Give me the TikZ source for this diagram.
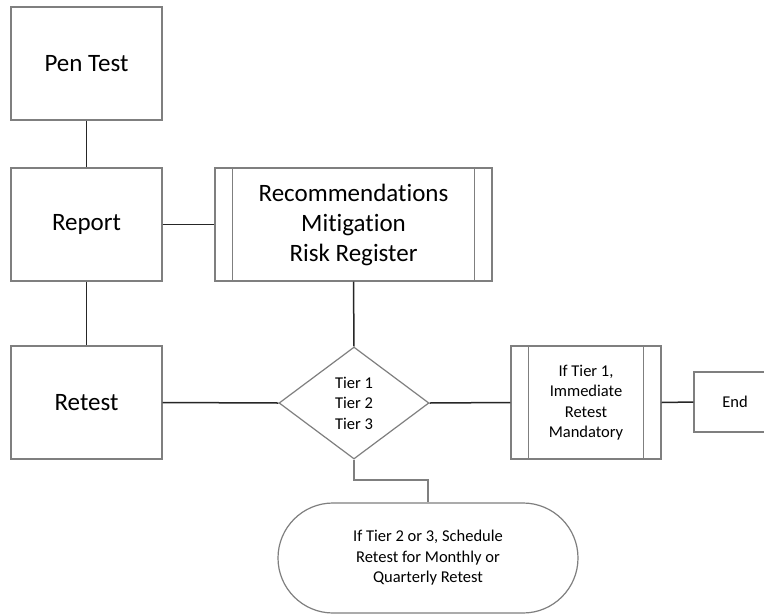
\documentclass[tikz,border=0pt]{standalone}
\usepackage{fontspec}
\setmainfont{Carlito}[Ligatures=NoCommon]
\usetikzlibrary{shapes.geometric,shapes.misc}
\definecolor{shapeline}{HTML}{7F7F7F}
\definecolor{connline}{HTML}{262626}
\tikzset{
  box/.style={draw=shapeline, line width=1.2pt, rectangle, inner sep=0pt, align=center, text=black},
  bigtext/.style={font=\fontsize{25}{30}\selectfont},
  smalltext/.style={font=\fontsize{16.5}{20.5}\selectfont},
  conn/.style={draw=connline, line width=1.5pt},
  sideline/.style={draw=shapeline, line width=1.2pt},
}
\begin{document}
\begin{tikzpicture}[x=1pt,y=-1pt]
\useasboundingbox (0,0) rectangle (764,614);
\fill[white] (0,0) rectangle (764,614);

\node[box,bigtext,minimum width=151pt,minimum height=113pt] (pen) at (86.5,63.5) {Pen Test};
\node[box,bigtext,minimum width=151pt,minimum height=113pt] (report) at (86.5,224.5) {Report};
\node[box,bigtext,minimum width=151pt,minimum height=113pt] (retest) at (86.5,402.5) {Retest};
\node[box,bigtext,minimum width=277pt,minimum height=113pt] (rec) at (353.5,224.5) {Recommendations\\Mitigation\\Risk Register};
\node[diamond,draw=shapeline,line width=1.2pt,smalltext,align=center,inner sep=0pt,minimum width=150pt,minimum height=112pt,aspect=1.34] (tier) at (354,403) {Tier 1\\Tier 2\\Tier 3};
\node[box,smalltext,minimum width=150pt,minimum height=113pt] (imm) at (586,402.5) {If Tier 1,\\Immediate\\Retest\\Mandatory};
\node[box,smalltext,minimum width=82pt,minimum height=60pt] (end) at (735,402) {End};
\node[rounded rectangle,draw=shapeline,line width=1.2pt,smalltext,align=center,inner sep=0pt,minimum width=300pt,minimum height=110pt] (sched) at (428,558) {If Tier 2 or 3, Schedule\\Retest for Monthly or\\Quarterly Retest};

% side bars of predefined processes
\draw[sideline] ([xshift=18pt]rec.north west) -- ([xshift=18pt]rec.south west);
\draw[sideline] ([xshift=-18pt]rec.north east) -- ([xshift=-18pt]rec.south east);
\draw[sideline] ([xshift=18pt]imm.north west) -- ([xshift=18pt]imm.south west);
\draw[sideline] ([xshift=-18pt]imm.north east) -- ([xshift=-18pt]imm.south east);

% connectors
\draw[conn] (pen.south) -- (report.north);
\draw[conn] (report.south) -- (retest.north);
\draw[conn] (report.east) -- (rec.west);
\draw[conn] (rec.south) -- (tier.north);
\draw[conn] (retest.east) -- (tier.west);
\draw[conn] (tier.east) -- (imm.west);
\draw[conn] (imm.east) -- (end.west);
\coordinate (bend) at (354,480);
\draw[conn,draw=shapeline] (tier.south) -- (bend) -| (sched.north);
\end{tikzpicture}
\end{document}
